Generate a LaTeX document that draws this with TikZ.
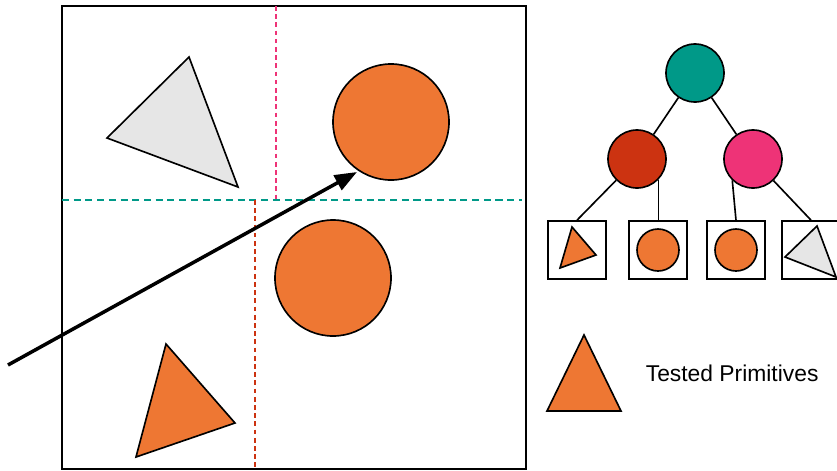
\documentclass[tikz,border=0pt]{standalone}
\usepackage{fontspec}
\setmainfont{Liberation Sans}
\usetikzlibrary{arrows.meta}
\definecolor{primorange}{HTML}{EE7733}
\definecolor{nodeteal}{HTML}{009988}
\definecolor{nodered}{HTML}{CC3311}
\definecolor{nodepink}{HTML}{EE3377}
\definecolor{primgray}{HTML}{E6E6E6}

\begin{document}
\begin{tikzpicture}[x=0.03cm, y=-0.03cm, line width=1.4pt,
  bigball/.style={draw,circle,inner sep=0pt,fill=primorange,minimum size=3.48cm},
  treenode/.style={draw,circle,inner sep=0pt,minimum size=1.74cm},
  leafbox/.style={draw,inner sep=0pt,minimum size=1.74cm},
  smallball/.style={draw,circle,inner sep=0pt,fill=primorange,minimum size=1.26cm},
  split/.style={line width=1.2pt,dash pattern=on 6pt off 4pt}]
\useasboundingbox (0,0) rectangle (837,470);
% scene
\draw (62,6) rectangle (526,469);
\draw[split,nodeteal] (62,200) -- (522,200);
\draw[split,nodepink,dash pattern=on 4pt off 3pt] (276,6) -- (276,200);
\draw[split,nodered,dash pattern=on 4pt off 3pt] (255,200) -- (255,469);
\draw[fill=primgray] (189,57) -- (107,138) -- (238,187) -- cycle;
\draw[fill=primorange] (166,344) -- (235,423) -- (136,457) -- cycle;
\node[bigball] (top) at (391,122) {};
\node[bigball] (low) at (333,278) {};
% ray
\coordinate (raystart) at (8,365);
\coordinate (hit) at (357,172);
\draw[line width=3pt,-{Triangle[length=19pt,width=14pt]}] (raystart) -- (hit);
% tree
\node[treenode,fill=nodeteal] (root) at (695,73) {};
\node[treenode,fill=nodered] (left) at (637,159) {};
\node[treenode,fill=nodepink] (right) at (753,159) {};
\node[leafbox] (leafa) at (577,250) {};
\node[leafbox] (leafb) at (658,250) {};
\node[leafbox] (leafc) at (736,250) {};
\node[leafbox] (leafd) at (811,250) {};
\draw (root) -- (left);
\draw (root) -- (right);
\draw (left) -- (leafa.north);
\draw (left.-44) -- (left.-44 |- leafb.north);
\draw (right.-134) -- (leafc.north);
\draw (right) -- (leafd.north);
\draw[fill=primorange] (572,227) -- (596,255) -- (560,268) -- cycle;
\node[smallball] (ballb) at (leafb) {};
\node[smallball] (ballc) at (leafc) {};
\draw[fill=primgray] (817,226) -- (785,257) -- (836,277) -- cycle;
% legend
\draw[fill=primorange] (584,335) -- (547,411) -- (621,411) -- cycle;
\node[anchor=west,font=\fontsize{19.5}{22}\selectfont,inner sep=0pt] (legend) at (645,373) {Tested Primitives};
\end{tikzpicture}
\end{document}
